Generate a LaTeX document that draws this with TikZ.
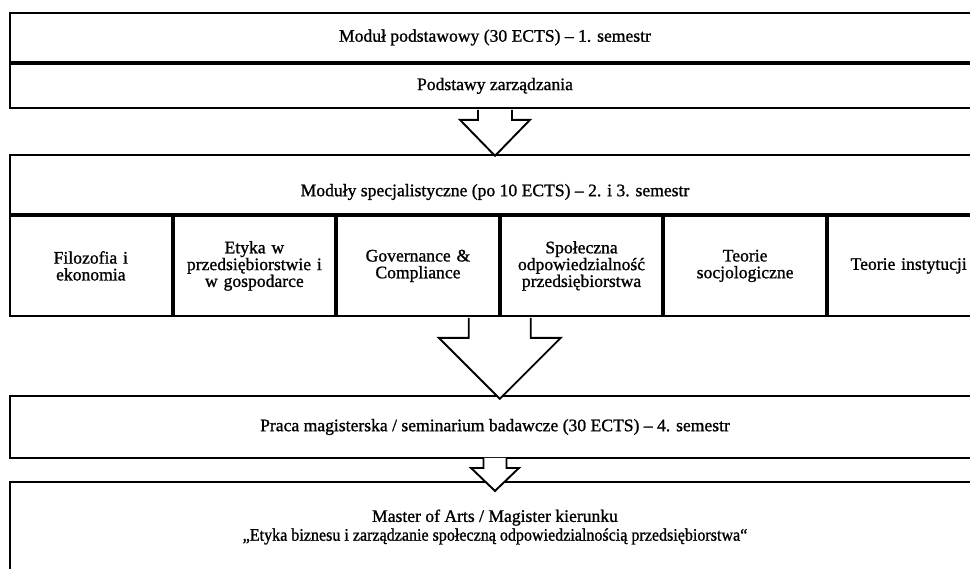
\documentclass[tikz,border=0pt]{standalone}
\usepackage{fontspec}
\setmainfont{Liberation Serif}[FakeBold=1.1]
\usetikzlibrary{positioning}
\usetikzlibrary{calc}

\begin{document}
\begin{tikzpicture}[x=1pt,y=-1pt,line width=1.9pt,font=\fontsize{17.6}{16.8}\selectfont,
    box/.style={draw,rectangle,inner sep=0pt,minimum width=970pt,align=center},
    col/.style={draw,rectangle,inner sep=0pt,minimum width=161.67pt,minimum height=100pt,text width=156pt,align=center},
    blok/.style={draw,fill=white,line join=miter}]
    \useasboundingbox (0,0) rectangle (970,569);
    \clip (0,0) rectangle (970,569);
    % modul podstawowy
    \node[box,minimum height=49pt] (modul) at (495,37.5) {Moduł podstawowy (30 ECTS) -- 1. semestr};
    \node[box,minimum height=44pt,below=0pt of modul] (podstawy) {Podstawy zarządzania};
    % moduly specjalistyczne
    \node[box,minimum height=59pt] (spec) at (495,184.5) {};
    \node (spectxt) at ($(spec.center)+(0,7.5)$) {Moduły specjalistyczne (po 10 ECTS) -- 2. i 3. semestr};
    \node[col,anchor=north west] (kol1) at (spec.south west) {Filozofia i\\ekonomia};
    \node[col,right=0pt of kol1] (kol2) {Etyka w\\przedsiębiorstwie i\\w gospodarce};
    \node[col,right=0pt of kol2] (kol3) {Governance \&\\Compliance};
    \node[col,right=0pt of kol3] (kol4) {Społeczna\\odpowiedzialność\\przedsiębiorstwa};
    \node[col,right=0pt of kol4] (kol5) {Teorie\\socjologiczne};
    \node[col,right=0pt of kol5] (kol6) {Teorie instytucji};
    % praca i dyplom
    \node[box,minimum height=62pt] (praca) at (495,427) {Praca magisterska / seminarium badawcze (30 ECTS) -- 4. semestr};
    \node[box,minimum height=90pt,font=\fontsize{17.6}{18.8}\selectfont] (dyplom) at (495,527) {Master of Arts / Magister kierunku\\\scalebox{0.912}[1]{„Etyka biznesu i zarządzanie społeczną odpowiedzialnością przedsiębiorstwa“}};
    % strzalki
    \draw[blok] ($(podstawy.south)+(-17,1)$) -- ++(0,10) -- ++(-18,0) -- ($(podstawy.south)+(0,47)$)
        -- ++(35,-36) -- ++(-18,0) -- ++(0,-10);
    \draw[blok] ($(kol3.south east)+(-31,1)$) -- ++(0,20) -- ++(-30,0) -- ($(kol3.south east)+(0,82)$)
        -- ++(61,-61) -- ++(-30,0) -- ++(0,-20);
    \draw[blok] ($(praca.south)+(-11.5,-1)$) -- ++(0,10) -- ++(-12.5,0) -- ($(praca.south)+(0,32)$)
        -- ++(24,-23) -- ++(-12.5,0) -- ++(0,-10);
\end{tikzpicture}
\end{document}
